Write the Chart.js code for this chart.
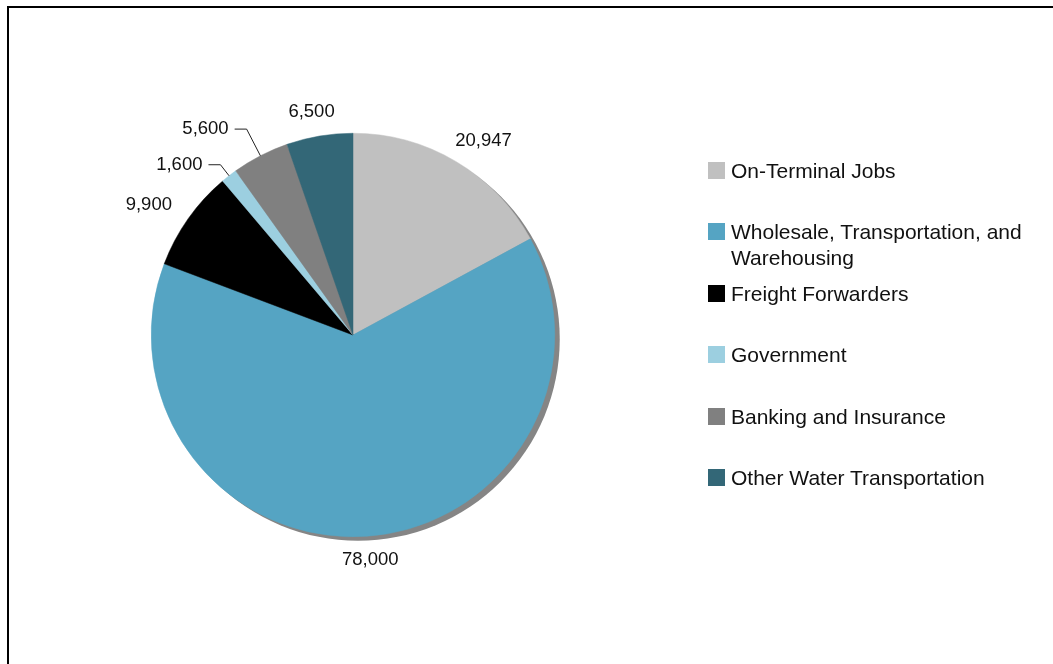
<!DOCTYPE html>
<html>
<head>
<meta charset="utf-8">
<script src="https://cdn.jsdelivr.net/npm/chart.js@4"></script>
<style>
  body { margin: 0; background: #fff; font-family: "Liberation Sans", Arial, sans-serif; }
  #wrap { position: relative; width: 1053px; height: 664px; overflow: hidden; }
  #frame { position: absolute; left: 7px; top: 6px; width: 1100px; height: 700px;
           border-left: 2px solid #000; border-top: 2px solid #000; }
  #jobsChart { position: absolute; left: 0; top: 0; }
  #legend { position: absolute; left: 708px; top: 140px; width: 340px; }
  .item { height: 61.4px; display: flex; align-items: flex-start; }
  .box { width: 17px; height: 17px; margin-top: 22px; margin-right: 6px; flex: none; }
  .txt { font-size: 21px; line-height: 26px; color: #111; margin-top: 18px; width: 312px; }
</style>
</head>
<body>
<div id="wrap">
  <div id="frame"></div>
  <canvas id="jobsChart" width="1053" height="664"></canvas>
  <div id="legend"></div>
</div>
<script>
// Port-related jobs by sector
const categories = ['On-Terminal Jobs', 'Wholesale, Transportation, and Warehousing',
  'Freight Forwarders', 'Government', 'Banking and Insurance', 'Other Water Transportation'];
const jobs = [20947, 78000, 9900, 1600, 5600, 6500];
const colors = ['#c0c0c0', '#55a4c3', '#000000', '#9ccfe0', '#808080', '#336777'];

// legend on the right
const legendEl = document.getElementById('legend');
categories.forEach((name, i) => {
  const row = document.createElement('div');
  row.className = 'item';
  row.innerHTML = '<div class="box" style="background:' + colors[i] + '"></div><div class="txt">' + name + '</div>';
  legendEl.appendChild(row);
});

// grey drop shadow behind the pie
const shadow = {
  id: 'shadow',
  beforeDatasetsDraw(chart) {
    const arc = chart.getDatasetMeta(0).data[0];
    const c = chart.ctx;
    c.save();
    c.fillStyle = '#858585';
    c.beginPath();
    c.arc(arc.x + 5, arc.y + 4, arc.outerRadius, 0, Math.PI * 2);
    c.fill();
    c.restore();
  }
};

// value labels outside the slices, leader lines for the thin ones
const outLabels = {
  id: 'outLabels',
  afterDatasetsDraw(chart, args, opts) {
    const c = chart.ctx;
    const meta = chart.getDatasetMeta(0);
    const vals = chart.data.datasets[0].data;
    c.save();
    c.font = '18.5px "Liberation Sans", Arial, sans-serif';
    c.fillStyle = '#111';
    c.strokeStyle = '#222';
    c.lineWidth = 1;
    c.textBaseline = 'middle';
    meta.data.forEach((arc, i) => {
      const mid = (arc.startAngle + arc.endAngle) / 2;
      const ux = Math.cos(mid), uy = Math.sin(mid);
      const r = arc.outerRadius;
      const txt = vals[i].toLocaleString('en-US');
      const w = c.measureText(txt).width;
      const lead = opts.leaders[i];
      if (lead !== undefined) {
        const ex = arc.x + ux * r, ey = arc.y + uy * r;
        const bx = arc.x + ux * (r + lead), by = arc.y + uy * (r + lead);
        const dir = ux < 0 ? -1 : 1;
        c.beginPath();
        c.moveTo(ex, ey);
        c.lineTo(bx, by);
        c.lineTo(bx + dir * 12, by);
        c.stroke();
        c.textAlign = dir < 0 ? 'right' : 'left';
        c.fillText(txt, bx + dir * 18, by);
      } else {
        const p = r + opts.pad;
        const cx = arc.x + ux * p + ux * (w / 2 + 10);
        const cy = arc.y + uy * p + uy * 9;
        c.textAlign = 'center';
        c.fillText(txt, cx, cy);
      }
    });
    c.restore();
  }
};

new Chart(document.getElementById('jobsChart').getContext('2d'), {
  type: 'pie',
  data: {
    labels: categories,
    datasets: [{
      data: jobs,
      backgroundColor: colors,
      borderColor: colors,
      borderWidth: 0.5
    }]
  },
  options: {
    responsive: false,
    devicePixelRatio: 1,
    animation: false,
    layout: { padding: { left: 151, right: 498, top: 133, bottom: 127 } },
    plugins: {
      legend: { display: false },
      tooltip: { enabled: false },
      outLabels: { pad: 15, leaders: { 3: 14, 4: 30 } }
    }
  },
  plugins: [shadow, outLabels]
});
</script>
</body>
</html>
